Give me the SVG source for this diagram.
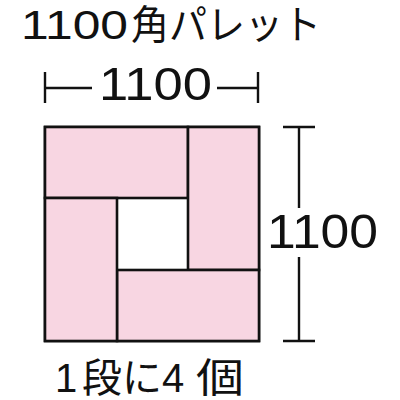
<svg xmlns="http://www.w3.org/2000/svg" width="400" height="400" viewBox="0 0 400 400">
<style>
.t{font-family:"Liberation Sans","Noto Sans CJK JP",sans-serif;fill:#111}
.n{font-family:"Liberation Sans",Arial,sans-serif;fill:#111}
.box{fill:#f8d6e2;stroke:#111;stroke-width:2.6}
.dim{stroke:#111;stroke-width:2.4;fill:none}
</style>
<rect width="400" height="400" fill="#fff"/>
<text y="39" font-size="40"><tspan class="n" x="21" textLength="107" lengthAdjust="spacingAndGlyphs">1100</tspan><tspan class="t" x="131" textLength="190" lengthAdjust="spacingAndGlyphs">角パレット</tspan></text>
<g id="width-dim">
<path class="dim" d="M45,72V103M45,88H92M217,88H258M258,72V103"/>
<text class="n" x="99" y="100" font-size="46" textLength="113" lengthAdjust="spacingAndGlyphs">1100</text>
</g>
<g id="height-dim">
<path class="dim" d="M283,127H315M299,127V208M299,257V341M283,341H315"/>
<text class="n" x="267" y="248" font-size="49" textLength="111" lengthAdjust="spacingAndGlyphs">1100</text>
</g>
<g id="pallet">
<rect x="45" y="127" width="214" height="214" fill="#fff" stroke="#111" stroke-width="2.6"/>
<rect id="box-top" class="box" x="45" y="127" width="143" height="71"/>
<rect id="box-right" class="box" x="188" y="127" width="71" height="143"/>
<rect id="box-bottom" class="box" x="117" y="270" width="142" height="71"/>
<rect id="box-left" class="box" x="45" y="198" width="72" height="143"/>
</g>
<text y="392" font-size="40"><tspan class="n" x="55">1</tspan><tspan class="t" x="82">段に</tspan><tspan class="n" x="162">4</tspan><tspan class="t" x="196" textLength="48" lengthAdjust="spacingAndGlyphs">個</tspan></text>
</svg>
